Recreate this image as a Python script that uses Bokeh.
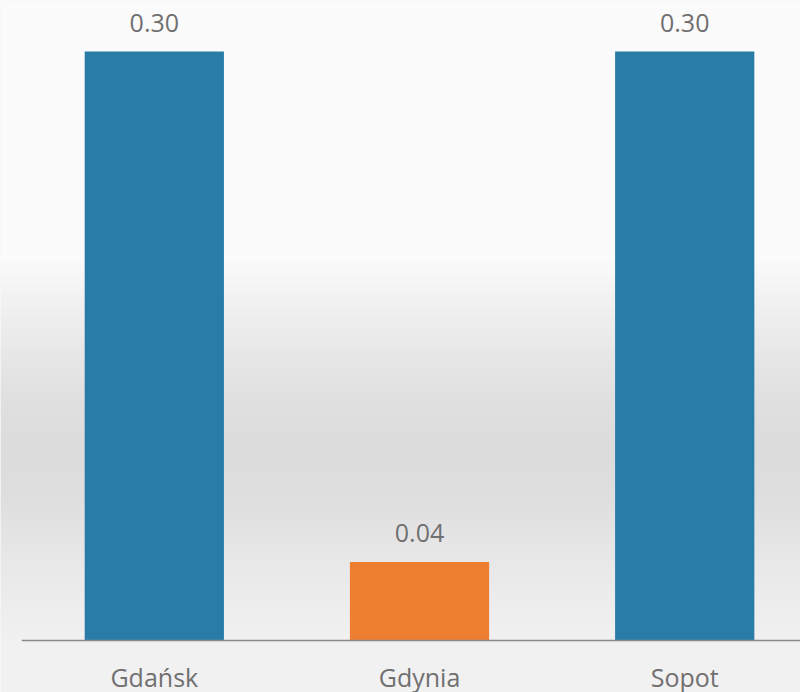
import numpy as np
from bokeh.plotting import figure
from bokeh.models import ColumnDataSource, Range1d
from bokeh.core.properties import value
from bokeh.embed import file_html
from bokeh.resources import INLINE

# ---- data ----
categories = ["Gdańsk", "Gdynia", "Sopot"]
values = [0.30, 0.04, 0.30]
colors = ["#2a7ca8", "#ee7f31", "#2a7ca8"]
labels = [f"{v:.2f}" for v in values]

positions = list(range(len(categories)))
source = ColumnDataSource(dict(x=positions, top=values, color=colors, label=labels,
                               cat=categories, zero=[0] * len(categories)))

X_START, X_END = -0.58, 2.4366
Y_START, Y_END = -0.02649, 0.326
FRAME_TOP_H = 640  # pixels from top of figure to the zero line

p = figure(width=800, height=692, output_backend="svg", toolbar_location=None,
           x_range=Range1d(X_START, X_END), y_range=Range1d(Y_START, Y_END),
           min_border=0)

p.background_fill_color = "#f2f1f2"
p.border_fill_color = "#f2f1f2"
p.outline_line_color = None
p.grid.visible = False
p.xaxis.visible = False
p.yaxis.visible = False

# background gradient (decoration)
stops_y = [0, 260, 300, 350, 400, 450, 500, 550, 600, 640]
stops_g = [253, 252, 243, 233, 225, 221, 224, 232, 238, 242]
H = 320
rows = FRAME_TOP_H - (np.arange(H) + 0.5) * FRAME_TOP_H / H
g = np.interp(rows, stops_y, stops_g).astype(np.uint32)
img = np.empty((H, 1), dtype=np.uint32)
view = img.view(dtype=np.uint8).reshape((H, 1, 4))
view[:, 0, 0] = g
view[:, 0, 1] = np.clip(g - 1, 0, 255)
view[:, 0, 2] = g
view[:, 0, 3] = 255
p.image_rgba(image=[img], x=X_START, y=0, dw=X_END - X_START, dh=Y_END)

# bars
p.vbar(x="x", top="top", width=0.525, bottom=0, fill_color="color", line_color=None, source=source)

# baseline (category axis) starting at the first category band edge
p.ray(x=[-0.5], y=[0], length=0, angle=0, line_color="#8a8a8a", line_width=1.5)

# value labels
p.text(x="x", y="top", text="label", source=source, text_align="center",
       text_baseline="alphabetic", y_offset=-29, text_color="#707070",
       text_font=value("Open Sans"), text_font_size="25px")

# category labels
p.text(x="x", y="zero", text="cat", source=source, text_align="center",
       text_baseline="alphabetic", y_offset=37, text_color="#707070",
       text_font=value("Open Sans"), text_font_size="25px")

open("out.html", "w").write(file_html(p, INLINE))
